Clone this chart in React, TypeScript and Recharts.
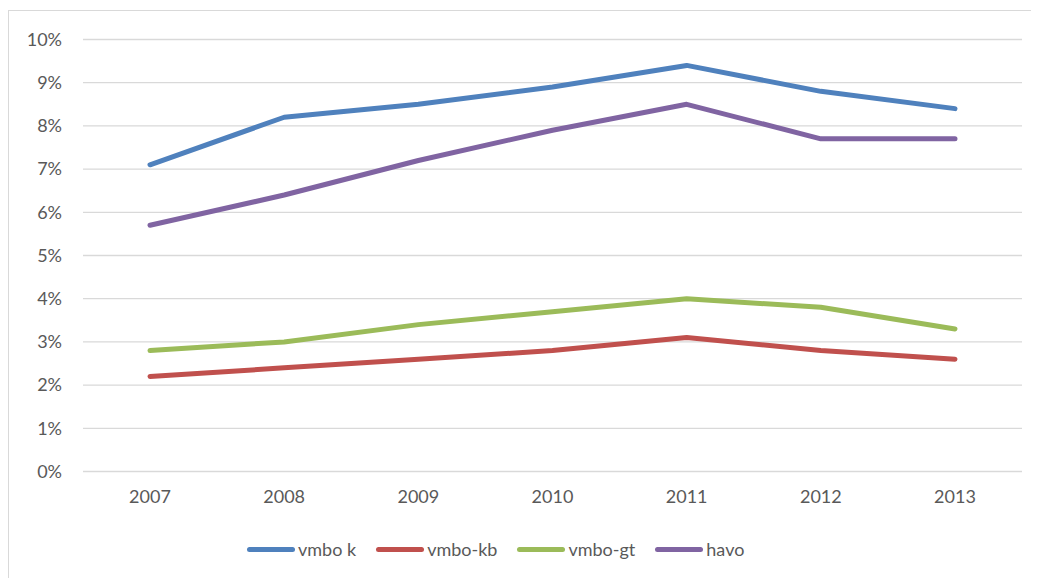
import React from 'react';
import { LineChart, Line, XAxis, YAxis, CartesianGrid, Legend } from 'recharts';

const years = ['2007', '2008', '2009', '2010', '2011', '2012', '2013'];
const vmboK = [7.1, 8.2, 8.5, 8.9, 9.4, 8.8, 8.4];
const vmboKb = [2.2, 2.4, 2.6, 2.8, 3.1, 2.8, 2.6];
const vmboGt = [2.8, 3.0, 3.4, 3.7, 4.0, 3.8, 3.3];
const havo = [5.7, 6.4, 7.2, 7.9, 8.5, 7.7, 7.7];
const yTicks = [0, 1, 2, 3, 4, 5, 6, 7, 8, 9, 10];

const seriesNames = ['vmbo k', 'vmbo-kb', 'vmbo-gt', 'havo'];
const colors = ['#4f81bd', '#c0504d', '#9bbb59', '#8064a2'];
const keys = ['k', 'kb', 'gt', 'havo'];

const data = years.map((y, i) => ({
  year: y,
  k: vmboK[i],
  kb: vmboKb[i],
  gt: vmboGt[i],
  havo: havo[i],
}));

const FONT = 'Lato, "Open Sans", sans-serif';

const renderLegend = () => (
  <div
    style={{
      display: 'flex',
      alignItems: 'center',
      paddingLeft: 238,
      height: 40,
      fontFamily: FONT,
      fontSize: 18,
      color: '#595959',
    }}
  >
    {seriesNames.map((n, i) => (
      <div key={n} style={{ display: 'flex', alignItems: 'center', marginRight: 20 }}>
        <div
          style={{
            width: 48,
            height: 5,
            borderRadius: 2.5,
            background: colors[i],
            marginRight: 3,
          }}
        />
        <span>{n}</span>
      </div>
    ))}
  </div>
);

export default function App() {
  return (
    <div style={{ paddingTop: 2 }}>
      <div
        style={{
          width: 1040,
          height: 580,
          borderTop: '1px solid #d9d9d9',
          borderLeft: '1px solid #d9d9d9',
          position: 'relative',
        }}
      >
        <LineChart
          width={1030}
          height={567}
          data={data}
          margin={{ top: 28.5, right: 17, left: 0, bottom: 9 }}
        >
          <CartesianGrid vertical={false} stroke="#d9d9d9" strokeWidth={1.3} />
          <XAxis
            dataKey="year"
            axisLine={false}
            tickLine={false}
            tickSize={0}
            tickMargin={19}
            height={57.5}
            padding={{ left: 67, right: 67 }}
            tick={{ fill: '#595959', fontSize: 18, fontFamily: FONT }}
          />
          <YAxis
            width={74}
            domain={[0, 10]}
            ticks={yTicks}
            interval={0}
            axisLine={false}
            tickLine={false}
            tickSize={0}
            tickMargin={21}
            tickFormatter={(v) => `${v}%`}
            tick={{ fill: '#595959', fontSize: 18, fontFamily: FONT }}
          />
          <Legend
            verticalAlign="bottom"
            height={40}
            content={renderLegend}
            wrapperStyle={{ left: 0, width: 1030 }}
          />
          {keys.map((k, i) => (
            <Line
              key={k}
              type="linear"
              dataKey={k}
              name={seriesNames[i]}
              stroke={colors[i]}
              strokeWidth={5}
              strokeLinecap="round"
              strokeLinejoin="round"
              dot={false}
              activeDot={false}
              isAnimationActive={false}
            />
          ))}
        </LineChart>
      </div>
    </div>
  );
}
